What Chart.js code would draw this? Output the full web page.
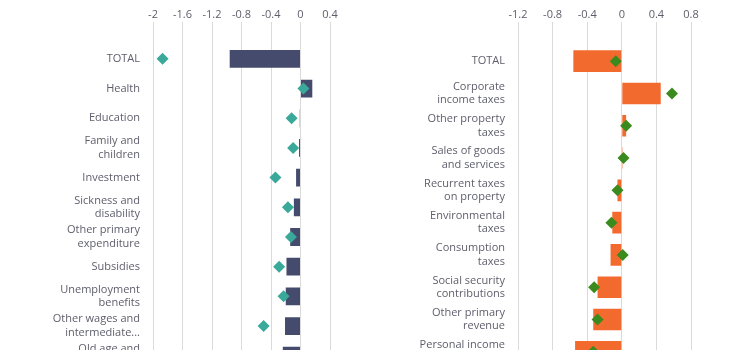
<!DOCTYPE html>
<html>
<head>
<meta charset="utf-8">
<script src="https://cdn.jsdelivr.net/npm/chart.js@4"></script>
<style>
    html, body { margin: 0; padding: 0; background: #fff; overflow: hidden; }
    #wrap { width: 750px; height: 350px; overflow: hidden; position: relative; }
    canvas { position: absolute; top: 0; }
    #spending-graph { left: 0; }
    #revenue-graph { left: 375px; }
</style>
</head>
<body>
<div id="wrap">
    <canvas id="spending-graph" width="375" height="420"></canvas>
    <canvas id="revenue-graph" width="375" height="420"></canvas>
</div>
<script>
const spendingLabels = ['TOTAL', 'Health', 'Education', ['Family and', 'children'], 'Investment',
    ['Sickness and', 'disability'], ['Other primary', 'expenditure'], 'Subsidies', ['Unemployment', 'benefits'],
    ['Other wages and', 'intermediate...'], ['Old age and', 'survivors'], ['Compensation', 'of employees']];
const spendingBars = [-0.96, 0.16, -0.01, -0.02, -0.06, -0.09, -0.14, -0.19, -0.20, -0.21, -0.24, -0.27];
const spendingMarks = [-1.87, 0.04, -0.12, -0.10, -0.34, -0.17, -0.13, -0.29, -0.23, -0.50, -0.35, -0.30];
const spendingTicks = [-2, -1.6, -1.2, -0.8, -0.4, 0, 0.4];

const revenueLabels = ['TOTAL', ['Corporate', 'income taxes'], ['Other property', 'taxes'], ['Sales of goods', 'and services'],
    ['Recurrent taxes', 'on property'], ['Environmental', 'taxes'], ['Consumption', 'taxes'], ['Social security', 'contributions'],
    ['Other primary', 'revenue'], ['Personal income', 'taxes'], ['Taxes on', 'goods']];
const revenueBars = [-0.56, 0.45, 0.05, 0.01, -0.05, -0.11, -0.13, -0.28, -0.33, -0.54, -0.60];
const revenueMarks = [-0.07, 0.58, 0.05, 0.02, -0.05, -0.12, 0.01, -0.32, -0.28, -0.33, -0.40];
const revenueTicks = [-1.2, -0.8, -0.4, 0, 0.4, 0.8];

const textColour = '#5e5e6c';
const gridColour = '#dadada';

function makePanel(id, labels, bars, marks, ticks, barColour, markColour, yWidth, rightPad, top, bottom, barShare) {
    return new Chart(document.getElementById(id), {
        data: {
            labels: labels,
            datasets: [{type: 'line', data: marks, showLine: false, order: 1,
                        pointStyle: 'rectRot', radius: 6, hoverRadius: 6,
                        backgroundColor: markColour, borderColor: markColour, borderWidth: 0},
                       {type: 'bar', data: bars, order: 2, backgroundColor: barColour,
                        barPercentage: 1, categoryPercentage: barShare}]
        },
        options: {
            indexAxis: 'y',
            responsive: false,
            animation: false,
            layout: {padding: {left: 0, right: rightPad, top: 0, bottom: bottom}},
            plugins: {legend: {display: false}, tooltip: {enabled: false}},
            scales: {
                x: {
                    type: 'linear', position: 'top',
                    min: ticks[0], max: ticks[ticks.length - 1],
                    afterBuildTicks: axis => { axis.ticks = ticks.map(v => ({value: v})); },
                    afterFit: axis => { axis.height = top; },
                    grid: {color: gridColour, tickColor: gridColour, tickLength: top - 22, lineWidth: 1},
                    border: {display: false},
                    ticks: {color: textColour, padding: 1, font: {family: 'Open Sans', size: 11},
                            callback: v => String(v)}
                },
                y: {
                    type: 'category',
                    afterFit: axis => { axis.width = yWidth; },
                    grid: {display: false, drawTicks: false},
                    border: {display: false},
                    ticks: {color: textColour, padding: 13, autoSkip: false,
                            font: {family: 'Open Sans', size: 11, lineHeight: 1.22}}
                }
            }
        }
    });
}

makePanel('spending-graph', spendingLabels, spendingBars, spendingMarks, spendingTicks,
    '#454b6d', '#3aa99a', 153, 45, 44, 16, 0.6);
makePanel('revenue-graph', revenueLabels, revenueBars, revenueMarks, revenueTicks,
    '#f26a2e', '#3b8a1e', 143, 59, 45, 15, 0.67);
</script>
</body>
</html>
